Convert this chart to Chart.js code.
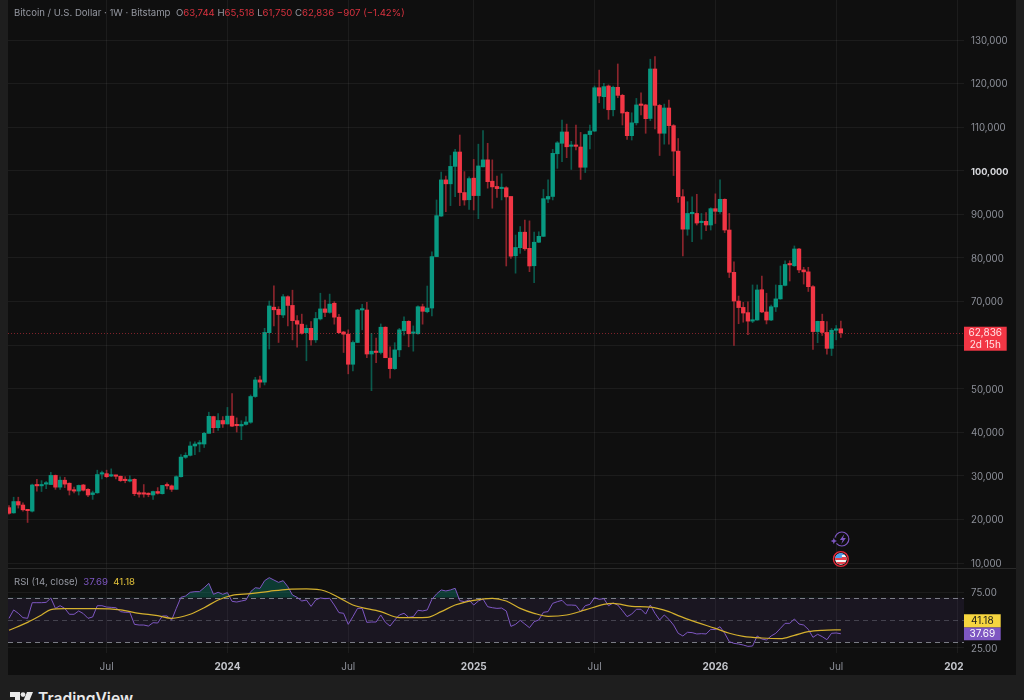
<!DOCTYPE html>
<html><head><meta charset="utf-8">
<style>
html,body{margin:0;padding:0;background:#1e1e1e;width:1024px;height:700px;overflow:hidden;font-family:Inter,"Noto Sans",sans-serif}
#panel{position:absolute;left:8px;top:0;width:1008px;height:675px;background:#0f0f0f}
canvas{position:absolute;left:8px}
#c1{top:0}#c2{top:568px}
#sep{position:absolute;left:8px;top:568px;width:1008px;height:1px;background:#2a2a2a}
.hdr{position:absolute;left:14px;font-size:9.6px;color:#9598a1;white-space:pre}
.r{color:#d8323f}.p{color:#7e57c2}.y{color:#e2c23a}
#logo{position:absolute;left:10px;top:692px}
#tv{position:absolute;left:38px;top:689px;font-size:15.6px;font-weight:600;color:#e8e8e8}
</style></head><body>
<div id="panel"></div>
<canvas id="c1" width="1008" height="568"></canvas>
<canvas id="c2" width="1008" height="107"></canvas>
<div id="sep"></div>
<div class="hdr" style="top:7px">Bitcoin / U.S. Dollar · 1W · Bitstamp  O<span class="r">63,744</span> H<span class="r">65,518</span> L<span class="r">61,750</span> C<span class="r">62,836</span> <span class="r">−907 (−1.42%)</span></div>
<div class="hdr" style="top:576px">RSI (14, close)  <span class="p">37.69</span>  <span class="y">41.18</span></div>
<svg id="logo" width="24" height="14" viewBox="0 0 24 14"><path d="M0 0h10v12H5V5H0z M17 0h6l-5 12h-6z" fill="#e8e8e8"/><circle cx="13" cy="2.6" r="2.4" fill="#e8e8e8"/></svg>
<div id="tv">TradingView</div>
<script src="https://cdn.jsdelivr.net/npm/chart.js"></script>
<script>
const opens=[22700,21500,24100,23300,22200,21900,27900,27700,28100,28000,
30100,27400,29000,28300,26800,26500,27900,26900,25700,26100,
30400,30500,29950,30100,29900,29100,28800,29200,26050,26050,
25900,25600,26400,25900,27800,27700,26900,29800,34250,34700,
36850,37300,37300,39750,43600,41050,42700,41900,43700,41600,
41450,41800,42300,48200,52000,51500,62850,68700,68200,66900,
71100,69100,65600,64800,62850,63850,61200,66000,68300,67500,
69600,66400,63000,62500,55600,60600,68050,68050,57950,58600,
58300,64100,57000,54600,58900,63300,65450,62700,62600,68800,
67650,68500,80300,89600,97900,97000,101000,104300,95000,93350,
98300,94300,100900,102500,97600,96400,95900,96100,94100,80500,
82350,85900,82200,78200,83600,84950,93500,94100,103900,106300,
108900,105600,105800,105450,100800,108300,109100,119050,117000,119450,
114000,119150,117300,113400,108050,111000,115250,115100,112000,123350,
115000,108600,114400,110350,104500,94050,86600,90150,90200,88100,
88400,87550,91300,90600,93450,86400,76700,70100,68650,67450,
65500,65750,72700,67600,65750,68750,70600,73700,78600,78200,
82050,77250,76800,73400,63100,65450,62900,59250,63400,63744];
const highs=[23200,25100,25100,23800,22200,28100,29200,28900,28700,30800,
30200,29800,29650,28400,27400,27900,28050,27050,26500,31300,
31100,31300,31600,30200,29960,29800,30000,29350,26500,28000,
26100,26500,27300,27800,28400,27900,30000,34900,35300,37800,
37800,38100,40000,44600,43700,44300,43600,45700,48900,43300,
42650,43600,48550,52600,52900,63850,70100,73600,68800,71600,
71300,72600,66750,67100,64600,65400,67500,71900,70350,71700,
69960,67050,63150,63500,61000,68200,69350,69800,62700,61600,
64850,64200,59600,60550,63850,66500,65600,64400,69000,69400,
73550,81400,93300,99700,98800,103500,104900,108200,99800,98600,
102600,106100,109200,106300,102500,98800,99300,96350,94100,85250,
87200,88700,88500,85950,86000,95700,97900,104900,106700,111650,
110700,106750,110500,108800,108400,110500,119450,123100,120050,119700,
119450,124500,117550,113550,113300,116600,117900,115250,125600,126200,
115250,115300,116200,110600,107400,95700,92900,94000,94600,90200,
90400,91500,94700,97900,93550,90200,79100,71250,69800,69900,
73800,73800,75850,71900,69200,73800,78150,79350,79350,82750,
82200,77850,77850,73650,65500,67100,65400,63800,64500,65518];
const lows=[21200,21400,22600,21900,19300,21700,26500,26400,27050,28000,
26900,26900,27300,25600,26100,25600,26500,25200,24600,26000,
29300,29600,29800,29300,28700,28400,28600,25450,25100,25100,
25200,24600,25800,25800,27000,26400,26900,29700,34000,34550,
34850,35500,36500,39750,39900,40400,41100,41900,41300,40050,
38300,41650,42050,48000,50300,50850,59100,64400,60600,66300,
64400,61200,59500,62500,56400,60000,60600,65750,66500,67300,
64800,62700,58300,53400,54100,60550,63500,57100,49550,55950,
57950,57100,52400,54400,57350,62300,59600,58600,62500,64800,
67400,66700,80300,89500,90600,92000,94050,92000,92100,91150,
91000,89000,100900,96000,91400,93900,93300,78150,79900,76500,
81050,81700,76850,74300,83500,84900,92700,93300,100550,102100,
103000,100300,104800,98000,99600,105000,109000,115600,114300,111800,
112600,116750,110500,107200,107050,110500,112800,108600,111500,109600,
103500,106100,106100,98900,92750,80450,85200,83700,87550,84300,
86250,86400,87900,90200,85800,75500,59900,64900,65250,62400,
65150,65700,67450,64850,65600,67700,70500,73600,74700,78050,
76600,74000,72300,59000,60550,62200,57900,57600,61200,61750];
const closes=[21400,24100,23300,22200,22000,27900,27700,28000,28300,30100,
27400,29000,28100,26700,26500,27800,26700,25600,26100,30300,
30650,29800,30100,29900,28900,28900,29100,25900,25800,25800,
25700,26400,26000,27800,27700,26900,29800,34300,34700,36850,
37300,37450,39750,43650,41050,42700,41900,43700,41400,41500,
41800,42350,48200,52000,51500,62900,68970,68100,67000,71100,
69100,65600,64800,62700,63850,61200,66100,68300,67500,69400,
66400,62850,62500,55600,60600,68050,68200,57950,58600,58300,
64100,57100,54600,58900,63500,65450,62600,62850,68800,67750,
68500,80300,89700,97900,97000,101000,104300,95000,93300,98200,
94300,101100,102500,97500,96300,95900,96100,94000,80400,82400,
85900,82100,78150,83600,84950,93600,94100,104000,106400,108900,
105500,105800,105600,100800,108300,109100,119050,117150,119300,114000,
119150,117300,113250,108050,111000,115100,115000,111950,123350,115000,
108600,114400,110350,104500,94050,86600,90200,90300,88000,88400,
87550,91300,90700,93450,86400,76700,70100,68600,67350,65500,
65750,72650,67600,65750,68800,70600,73700,78500,78400,82050,
77250,76800,73400,63100,65450,62900,59250,63400,63600,62836];
const rsiValues=[51.5,59.0,56.0,52.1,51.5,65.5,65.5,65.5,65.8,69.7,
60.4,62.8,60.4,55.1,55.1,58.1,55.7,51.5,52.7,62.8,
62.8,61.6,61.3,61.0,57.5,56.9,56.9,46.1,45.5,45.5,
44.6,47.6,47.3,53.6,53.6,50.0,60.4,70.3,71.5,74.8,
75.4,75.4,78.9,82.8,73.0,74.8,73.0,74.5,66.7,66.1,
67.0,67.9,75.4,78.9,78.3,85.2,87.9,85.8,83.7,85.2,
79.8,72.4,70.3,67.0,67.9,62.2,67.9,69.7,69.1,69.4,
63.4,56.6,56.0,46.1,53.0,60.4,60.4,47.9,48.2,48.2,
54.5,47.9,44.6,50.0,54.5,56.0,52.4,53.0,58.7,58.1,
59.0,68.5,73.3,76.9,76.0,76.9,78.4,67.3,66.4,67.9,
63.4,67.0,68.8,61.9,61.0,60.4,60.7,58.1,44.3,46.1,
49.7,46.4,43.1,48.5,50.0,56.9,57.5,64.9,66.4,67.6,
63.4,63.4,63.1,57.5,62.8,64.0,70.0,68.5,69.1,62.8,
65.2,63.4,58.4,53.0,55.3,59.6,59.6,55.3,63.4,56.0,
50.0,54.5,50.6,45.5,38.1,35.7,39.0,38.7,37.5,37.8,
37.5,41.6,41.4,44.0,38.1,30.6,29.1,28.5,27.6,26.4,
26.7,35.7,33.0,32.1,35.7,38.1,42.5,47.0,47.0,50.9,
46.4,45.5,41.6,34.5,37.2,35.1,32.4,38.1,38.4,37.69];
const rsiMaWeeks=[0,4,7,9,12,19,24,28,32,35,39,42,45,48,52,56,60,64,68,71,74,80,84,90,93,96,100,104,107,110,113,116,120,124,128,130,134,138,142,144,148,152,155,158,162,166,169,172,175,179];
const rsiMaValues=[40.8,47.9,54.5,59.3,60.1,60.1,59.0,56.0,53.9,51.5,55.1,61.0,67.9,72.1,73.6,75.7,77.5,77.8,76.0,70.0,63.4,57.5,52.1,52.4,57.5,63.4,67.6,69.4,67.0,60.4,56.0,53.3,54.5,59.0,64.0,64.9,62.2,61.6,57.5,53.9,47.9,42.5,38.1,35.4,33.9,33.3,36.3,39.6,40.8,41.18];
const priceTicks=[10000,20000,30000,40000,50000,60000,70000,80000,90000,100000,110000,120000,130000];
const rsiTicks=[25,75];
const rsiLevels=[70,50,30];
const xTickWeeks=[21,47,73,100,126,152,178,204];
const xTickLabels=['Jul','2024','Jul','2025','Jul','2026','Jul','202\u2007'];
const countdown='2d 15h';

const FONT='Inter,"Noto Sans",sans-serif';
const GRID='rgba(255,255,255,0.055)';
const RED='#f23645',GREEN='#089981',RED_W='rgba(242,54,69,0.55)',GREEN_W='rgba(8,153,129,0.55)';
const up=i=>closes[i]>=opens[i];
const xMin=-0.215,xMax=205.5;
const isYear=c=>/^20/.test(xTickLabels[c.index]||'');
const noPad=s=>{s.paddingTop=s.paddingBottom=s.paddingLeft=s.paddingRight=0};
const xScale=(showLabels)=>({type:'linear',min:xMin,max:xMax,offset:false,
  border:{display:false},grid:{color:GRID,drawTicks:false,offset:false},
  afterBuildTicks:s=>{s.ticks=xTickWeeks.map(v=>({value:v}))},
  afterFit:s=>{s.height=showLabels?22:0;noPad(s)},
  ticks:{display:showLabels,autoSkip:false,maxRotation:0,padding:8,
    callback:v=>{const k=xTickWeeks.indexOf(v);return k<0?'':xTickLabels[k]},
    color:c=>isYear(c)?'#c4c6cc':'#8d9099',
    font:c=>({family:FONT,size:10,weight:isYear(c)?'700':'400'})}});
const isRound=c=>!!c.tick&&c.tick.value===100000;

const priceOverlay={id:'priceOverlay',afterDraw(ch){
  const c=ch.ctx,a=ch.chartArea,y=ch.scales.y.getPixelForValue(closes[closes.length-1]);
  c.save();
  c.strokeStyle='rgba(242,54,69,0.5)';c.lineWidth=1;c.setLineDash([1,2]);
  c.beginPath();c.moveTo(a.left,Math.round(y)+.5);c.lineTo(a.right,Math.round(y)+.5);c.stroke();c.setLineDash([]);
  c.fillStyle=RED;c.fillRect(a.right,y-6,42.7,24);
  c.fillStyle='#ffe3e5';c.font='10px '+FONT;c.textAlign='center';c.textBaseline='middle';
  c.fillText(closes[closes.length-1].toLocaleString('en-US'),a.right+21.3,y+.5);
  c.fillText(countdown,a.right+21.3,y+12);
  const px=ch.scales.x.getPixelForValue(closes.length-1);
  c.strokeStyle='#7e57c2';c.lineWidth=1.2;c.beginPath();c.arc(px+1,539,7,0,Math.PI*2);c.stroke();
  c.fillStyle='#7e57c2';c.beginPath();
  [[2.5,-5],[-2,1],[0.8,1],[-0.5,5],[4,-1],[1.2,-1]].forEach((p,i)=>{const X=px+1+p[0],Y=539+p[1];i?c.lineTo(X,Y):c.moveTo(X,Y)});c.closePath();c.fill();
  c.fillStyle='#0f0f0f';c.beginPath();c.arc(px-7,541,3.4,0,Math.PI*2);c.fill();
  c.fillStyle='#7e57c2';c.beginPath();
  [[0,-3.2],[.9,-.9],[3.2,0],[.9,.9],[0,3.2],[-.9,.9],[-3.2,0],[-.9,-.9]].forEach((p,i)=>{const X=px-7+p[0],Y=541+p[1];i?c.lineTo(X,Y):c.moveTo(X,Y)});c.closePath();c.fill();
  c.save();c.beginPath();c.arc(px,559,5.8,0,Math.PI*2);c.clip();
  c.fillStyle='#f4f4f4';c.fillRect(px-7,552,14,14);
  c.fillStyle='#e8434f';c.fillRect(px-7,557,14,3);c.fillRect(px-7,562,14,2);
  c.fillStyle='#4e9fe8';c.fillRect(px-7,552,8,6);c.fillRect(px-7,552,14,3);
  c.restore();
  c.strokeStyle='#e8283a';c.lineWidth=1.4;c.beginPath();c.arc(px,559,7.4,0,Math.PI*2);c.stroke();
  c.restore();
}};
new Chart(document.getElementById('c1'),{type:'bar',
 data:{datasets:[
  {label:'Body',order:1,grouped:false,barThickness:3.7,minBarLength:1.4,borderWidth:0,
   data:opens.map((o,i)=>({x:i,y:[o,closes[i]]})),backgroundColor:c=>up(c.dataIndex)?GREEN:RED},
  {label:'Wick',order:2,grouped:false,barThickness:1,borderWidth:0,
   data:lows.map((l,i)=>({x:i,y:[l,highs[i]]})),backgroundColor:c=>up(c.dataIndex)?GREEN_W:RED_W}]},
 options:{responsive:false,animation:false,events:[],layout:{padding:0},
  plugins:{legend:{display:false},tooltip:{enabled:false}},
  scales:{x:xScale(false),
   y:{type:'linear',position:'right',min:8853,max:139178,border:{display:false},grid:{color:GRID,drawTicks:false},
    afterBuildTicks:s=>{s.ticks=priceTicks.map(v=>({value:v}))},afterFit:s=>{s.width=52;noPad(s)},
    ticks:{padding:7,labelOffset:1,autoSkip:false,callback:v=>v===60000?'':v.toLocaleString('en-US'),
     color:c=>isRound(c)?'#d8d9dd':'#8d9099',
     font:c=>({family:FONT,size:isRound(c)?9.2:9.7,weight:isRound(c)?'700':'400'})}}}},
 plugins:[priceOverlay]});

const rsiOverlay={id:'rsiOverlay',
 beforeDatasetsDraw(ch){const c=ch.ctx,a=ch.chartArea,s=ch.scales.y;c.save();
  c.fillStyle='rgba(126,87,194,0.1)';
  const t=s.getPixelForValue(rsiLevels[0]),b=s.getPixelForValue(rsiLevels[2]);
  c.fillRect(a.left,t,a.right-a.left,b-t);
  c.lineWidth=1;c.setLineDash([5,4]);
  rsiLevels.forEach((v,i)=>{c.strokeStyle=i===1?'rgba(120,123,134,0.45)':'rgba(150,153,162,0.8)';
   const y=Math.round(s.getPixelForValue(v))+.5;c.beginPath();c.moveTo(a.left,y);c.lineTo(a.right,y);c.stroke()});
  c.restore()},
 afterDraw(ch){const c=ch.ctx,a=ch.chartArea,s=ch.scales.y,last=rsiValues[rsiValues.length-1],ma=rsiMaValues[rsiMaValues.length-1];
  const y=s.getPixelForValue(last);c.save();
  c.fillStyle='#7e57c2';c.fillRect(a.right,y-6.5,36.7,13);
  c.fillStyle='#f6d53f';c.fillRect(a.right,y-19.5,36.7,13);
  c.font='10px '+FONT;c.textAlign='center';c.textBaseline='middle';
  c.fillStyle='#fff';c.fillText(last.toFixed(2),a.right+18.3,y+.5);
  c.fillStyle='#1a1a1a';c.fillText(ma.toFixed(2),a.right+18.3,y-12.5);
  c.restore()}};
new Chart(document.getElementById('c2'),{type:'line',
 data:{datasets:[
  {label:'RSI MA',order:1,data:rsiMaWeeks.map((w,i)=>({x:w,y:rsiMaValues[i]})),borderColor:'#d4b02e',borderWidth:1.2,pointRadius:0,cubicInterpolationMode:'monotone',fill:false},
  {label:'RSI',order:2,data:rsiValues.map((v,i)=>({x:i,y:v})),borderColor:'#7e57c2',borderWidth:1,pointRadius:0,tension:0,
   fill:{target:{value:rsiLevels[0]},above:'rgba(8,153,129,0.32)',below:'rgba(0,0,0,0)'}}]},
 options:{responsive:false,animation:false,events:[],layout:{padding:0},
  plugins:{legend:{display:false},tooltip:{enabled:false}},
  scales:{x:xScale(true),
   y:{type:'linear',position:'right',min:20.46,max:96.55,border:{display:false},grid:{color:GRID,drawTicks:false},
    afterBuildTicks:s=>{s.ticks=rsiTicks.map(v=>({value:v}))},afterFit:s=>{s.width=52;noPad(s)},
    ticks:{padding:7,labelOffset:1,autoSkip:false,callback:v=>v.toFixed(2),color:'#8d9099',font:{family:FONT,size:9.7}}}}},
 plugins:[rsiOverlay]});
</script>
</body></html>
